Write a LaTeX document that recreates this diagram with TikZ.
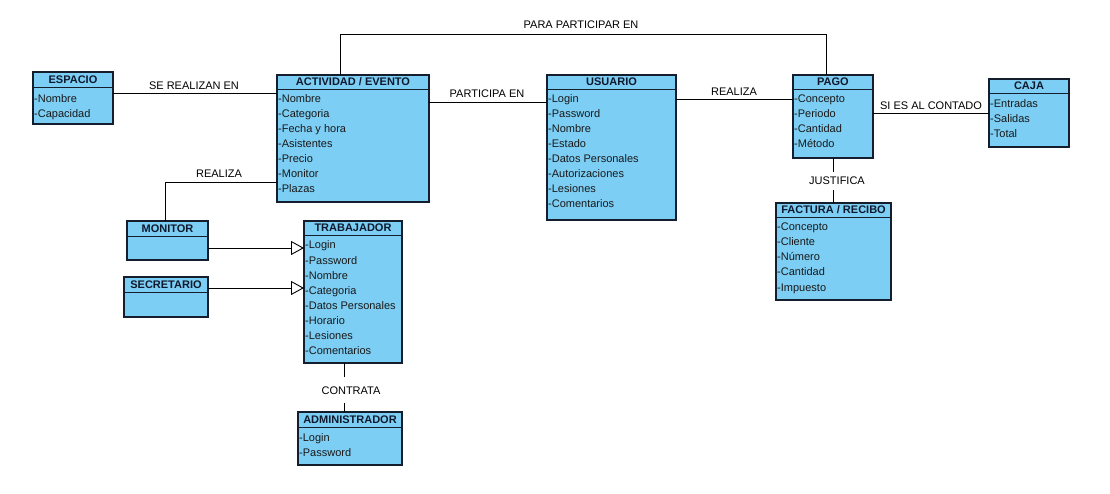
\documentclass[tikz,border=0pt]{standalone}
\usepackage{fontspec}
\setmainfont{Liberation Sans}
\usetikzlibrary{arrows.meta}
\definecolor{clsfill}{RGB}{125,206,244}
\definecolor{clsline}{RGB}{20,30,45}
\definecolor{ttl}{RGB}{15,25,45}
\tikzset{
 clsbox/.style={draw=clsline, fill=clsfill, line width=1.1pt, inner sep=0pt, outer sep=0pt, anchor=north west},
 hdr/.style={draw=clsline, line width=0.9pt},
 ttlnode/.style={font=\fontsize{11}{13}\selectfont\bfseries, text=ttl, inner sep=0pt, anchor=base},
 attr/.style={font=\fontsize{11}{13}\selectfont, anchor=base west, inner sep=0pt, text=black!90},
 conn/.style={draw=black, line width=0.9pt},
 lbl/.style={font=\fontsize{11}{13}\selectfont, inner sep=0pt, anchor=base},
 gaplbl/.style={font=\fontsize{11}{13}\selectfont, inner xsep=0pt, text height=8pt, text depth=0pt},
 gen/.style={conn, -{Triangle[open, length=13pt, width=14pt, line width=0.9pt]}},
}
% name, x1, y1, x2, y2, header y, title, first attr y, attrs
\newcommand{\umlcls}[9]{%
  \node[clsbox, minimum width={(#4-#2)*1pt}, minimum height={(#5-#3)*1pt}] (#1) at (#2,#3) {};
  \draw[hdr] (#2,#6) -- (#4,#6);
  \node[ttlnode] (#1-title) at ({(#2+#4)/2},{(#3+#6)/2+4}) {#7};
  \foreach \txt [count=\i from 0] in {#9} {
    \node[attr] (#1-a\i) at (#2+1,{#8+15*\i+4}) {\txt};
  }
}
\begin{document}
\begin{tikzpicture}[x=1pt,y=-1pt]
\useasboundingbox[fill=white] (0,0) rectangle (1110,494);

% classes
\umlcls{espacio}{33}{72}{113}{124}{87}{ESPACIO}{99}{-Nombre,-Capacidad}
\umlcls{actividad}{277}{75}{429}{202}{89}{ACTIVIDAD / EVENTO}{99}{-Nombre,-Categoria,-Fecha y hora,-Asistentes,-Precio,-Monitor,-Plazas}
\umlcls{usuario}{547}{75}{676}{220}{89}{USUARIO}{99}{-Login,-Password,-Nombre,-Estado,-Datos Personales,-Autorizaciones,-Lesiones,-Comentarios}
\umlcls{pago}{793}{75}{873}{158}{89}{PAGO}{99}{-Concepto,-Periodo,-Cantidad,-Método}
\umlcls{caja}{989}{79}{1069}{147}{93}{CAJA}{104}{-Entradas,-Salidas,-Total}
\umlcls{factura}{776}{203}{891}{300}{217}{FACTURA / RECIBO}{227}{-Concepto,-Cliente,-Número,-Cantidad,-Impuesto}
\umlcls{monitor}{127}{221}{208}{260}{236}{MONITOR}{250}{}
\umlcls{secretario}{124}{277}{208}{317}{292}{SECRETARIO}{305}{}
\umlcls{trabajador}{304}{221}{402}{363}{235}{TRABAJADOR}{245}{-Login,-Password,-Nombre,-Categoria,-Datos Personales,-Horario,-Lesiones,-Comentarios}
\umlcls{admin}{298}{412}{402}{465}{427}{ADMINISTRADOR}{437}{-Login,-Password}

% connectors
\draw[conn] (espacio.east |- 0,93) -- (actividad.west |- 0,93);
\node[lbl] (l-se) at (194,90) {SE REALIZAN EN};

\draw[conn] (actividad.east |- 0,102) -- (usuario.west |- 0,102);
\node[lbl] (l-part) at (487,98) {PARTICIPA EN};

\draw[conn] (usuario.east |- 0,99) -- (pago.west |- 0,99);
\node[lbl] (l-real) at (734,96) {REALIZA};

\draw[conn] (pago.east |- 0,113) -- (caja.west |- 0,113);
\node[lbl] (l-cont) at (931,110) {SI ES AL CONTADO};

\draw[conn] (actividad.north -| 340,0) -- (340,34) -| (pago.north -| 826,0);
\node[lbl] (l-para) at (581,29) {PARA PARTICIPAR EN};

\draw[conn] (actividad.west |- 0,182) -| (monitor.north -| 165,0);
\node[lbl] (l-mon) at (219,178) {REALIZA};

\node[gaplbl, inner ysep=5pt] (l-just) at (837,181) {JUSTIFICA};
\draw[conn] (pago.south -| 833,0) -- (l-just.north -| 833,0);
\draw[conn] (l-just.south -| 833,0) -- (factura.north -| 833,0);

\node[gaplbl, inner ysep=8.5pt] (l-contr) at (351,390) {CONTRATA};
\draw[conn] (trabajador.south -| 344,0) -- (l-contr.north -| 344,0);
\draw[conn] (l-contr.south -| 344,0) -- (admin.north -| 344,0);

\draw[gen] (monitor.east |- 0,248) -- (trabajador.west |- 0,248);
\draw[gen] (secretario.east |- 0,288) -- (trabajador.west |- 0,288);
\end{tikzpicture}
\end{document}
